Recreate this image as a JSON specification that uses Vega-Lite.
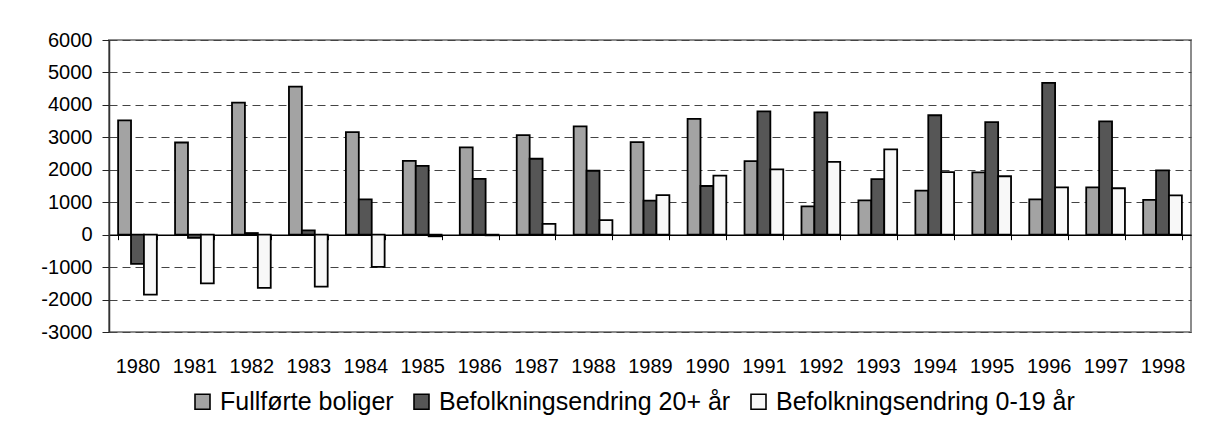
{
  "$schema": "https://vega.github.io/schema/vega-lite/v6.json",
  "width": 1082,
  "height": 292,
  "autosize": {"type": "none"},
  "padding": {"left": 109, "top": 40, "right": 27, "bottom": 95},
  "background": "white",
  "config": {
    "font": "Liberation Sans",
    "view": {"stroke": "#8c8c8c", "strokeWidth": 2}
  },
  "data": {
    "values": [
      {"year": "1980", "series": "Fullførte boliger", "value": 3520},
      {"year": "1980", "series": "Befolkningsendring 20+ år", "value": -900},
      {"year": "1980", "series": "Befolkningsendring 0-19 år", "value": -1850},
      {"year": "1981", "series": "Fullførte boliger", "value": 2840},
      {"year": "1981", "series": "Befolkningsendring 20+ år", "value": -100},
      {"year": "1981", "series": "Befolkningsendring 0-19 år", "value": -1500},
      {"year": "1982", "series": "Fullførte boliger", "value": 4070},
      {"year": "1982", "series": "Befolkningsendring 20+ år", "value": 50},
      {"year": "1982", "series": "Befolkningsendring 0-19 år", "value": -1640},
      {"year": "1983", "series": "Fullførte boliger", "value": 4560},
      {"year": "1983", "series": "Befolkningsendring 20+ år", "value": 130},
      {"year": "1983", "series": "Befolkningsendring 0-19 år", "value": -1600},
      {"year": "1984", "series": "Fullførte boliger", "value": 3160},
      {"year": "1984", "series": "Befolkningsendring 20+ år", "value": 1090},
      {"year": "1984", "series": "Befolkningsendring 0-19 år", "value": -990},
      {"year": "1985", "series": "Fullførte boliger", "value": 2275},
      {"year": "1985", "series": "Befolkningsendring 20+ år", "value": 2120},
      {"year": "1985", "series": "Befolkningsendring 0-19 år", "value": -50},
      {"year": "1986", "series": "Fullførte boliger", "value": 2690},
      {"year": "1986", "series": "Befolkningsendring 20+ år", "value": 1720},
      {"year": "1986", "series": "Befolkningsendring 0-19 år", "value": -20},
      {"year": "1987", "series": "Fullførte boliger", "value": 3070},
      {"year": "1987", "series": "Befolkningsendring 20+ år", "value": 2340},
      {"year": "1987", "series": "Befolkningsendring 0-19 år", "value": 330},
      {"year": "1988", "series": "Fullførte boliger", "value": 3340},
      {"year": "1988", "series": "Befolkningsendring 20+ år", "value": 1970},
      {"year": "1988", "series": "Befolkningsendring 0-19 år", "value": 450},
      {"year": "1989", "series": "Fullførte boliger", "value": 2850},
      {"year": "1989", "series": "Befolkningsendring 20+ år", "value": 1050},
      {"year": "1989", "series": "Befolkningsendring 0-19 år", "value": 1220},
      {"year": "1990", "series": "Fullførte boliger", "value": 3570},
      {"year": "1990", "series": "Befolkningsendring 20+ år", "value": 1500},
      {"year": "1990", "series": "Befolkningsendring 0-19 år", "value": 1820},
      {"year": "1991", "series": "Fullførte boliger", "value": 2265},
      {"year": "1991", "series": "Befolkningsendring 20+ år", "value": 3800},
      {"year": "1991", "series": "Befolkningsendring 0-19 år", "value": 2010},
      {"year": "1992", "series": "Fullførte boliger", "value": 870},
      {"year": "1992", "series": "Befolkningsendring 20+ år", "value": 3770},
      {"year": "1992", "series": "Befolkningsendring 0-19 år", "value": 2245},
      {"year": "1993", "series": "Fullførte boliger", "value": 1060},
      {"year": "1993", "series": "Befolkningsendring 20+ år", "value": 1710},
      {"year": "1993", "series": "Befolkningsendring 0-19 år", "value": 2630},
      {"year": "1994", "series": "Fullførte boliger", "value": 1360},
      {"year": "1994", "series": "Befolkningsendring 20+ år", "value": 3680},
      {"year": "1994", "series": "Befolkningsendring 0-19 år", "value": 1930},
      {"year": "1995", "series": "Fullførte boliger", "value": 1920},
      {"year": "1995", "series": "Befolkningsendring 20+ år", "value": 3470},
      {"year": "1995", "series": "Befolkningsendring 0-19 år", "value": 1800},
      {"year": "1996", "series": "Fullførte boliger", "value": 1090},
      {"year": "1996", "series": "Befolkningsendring 20+ år", "value": 4680},
      {"year": "1996", "series": "Befolkningsendring 0-19 år", "value": 1460},
      {"year": "1997", "series": "Fullførte boliger", "value": 1460},
      {"year": "1997", "series": "Befolkningsendring 20+ år", "value": 3490},
      {"year": "1997", "series": "Befolkningsendring 0-19 år", "value": 1430},
      {"year": "1998", "series": "Fullførte boliger", "value": 1070},
      {"year": "1998", "series": "Befolkningsendring 20+ år", "value": 1980},
      {"year": "1998", "series": "Befolkningsendring 0-19 år", "value": 1210}
    ]
  },
  "mark": {"type": "bar", "stroke": "black", "strokeWidth": 1.8},
  "encoding": {
    "x": {
      "field": "year",
      "type": "nominal",
      "scale": {"paddingInner": 0.32, "paddingOuter": 0.16},
      "axis": {
        "title": null,
        "orient": "bottom",
        "offset": -97.33,
        "labelAngle": 0,
        "labelFontSize": 20,
        "labelColor": "black",
        "labelPadding": 117,
        "tickBand": "extent",
        "tickSize": 5,
        "tickColor": "black",
        "tickWidth": 1,
        "domainColor": "black",
        "domainWidth": 1.5,
        "grid": false
      }
    },
    "xOffset": {
      "field": "series",
      "type": "nominal",
      "sort": ["Fullførte boliger", "Befolkningsendring 20+ år", "Befolkningsendring 0-19 år"],
      "scale": {"paddingInner": 0, "paddingOuter": 0}
    },
    "y": {
      "field": "value",
      "type": "quantitative",
      "scale": {"domain": [-3000, 6000], "nice": false, "zero": false},
      "axis": {
        "title": null,
        "values": [-3000, -2000, -1000, 0, 1000, 2000, 3000, 4000, 5000, 6000],
        "labelExpr": "'' + datum.value",
        "labelFontSize": 20,
        "labelColor": "black",
        "labelPadding": 10,
        "tickSize": 7,
        "tickColor": "#222",
        "domainColor": "#333",
        "domainWidth": 1.5,
        "grid": true,
        "gridColor": "#444",
        "gridDash": [8, 5],
        "gridWidth": 1
      }
    },
    "fill": {
      "field": "series",
      "type": "nominal",
      "sort": ["Fullførte boliger", "Befolkningsendring 20+ år", "Befolkningsendring 0-19 år"],
      "scale": {
        "domain": ["Fullførte boliger", "Befolkningsendring 20+ år", "Befolkningsendring 0-19 år"],
        "range": ["#a3a3a3", "#565656", "#f8f8f8"]
      },
      "legend": {
        "title": null,
        "orient": "none",
        "direction": "horizontal",
        "legendX": 81,
        "legendY": 349,
        "symbolType": "square",
        "symbolSize": 225,
        "symbolStrokeColor": "black",
        "symbolStrokeWidth": 1.6,
        "symbolOpacity": 1,
        "labelFontSize": 25,
        "labelColor": "black",
        "labelOffset": 5,
        "columnPadding": 15,
        "labelLimit": 500
      }
    }
  }
}
